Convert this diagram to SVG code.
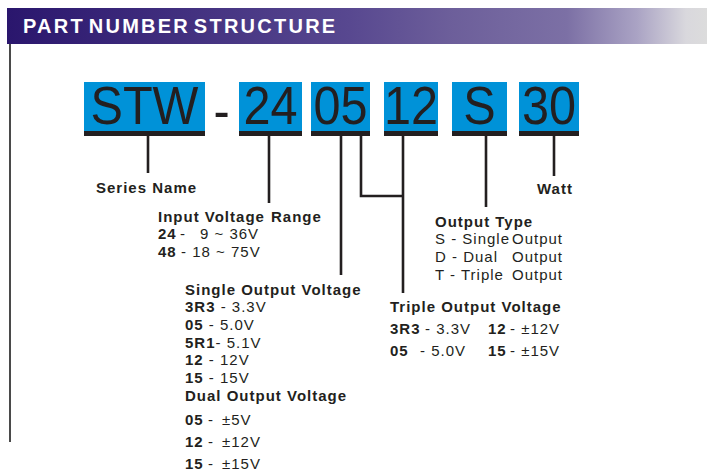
<svg xmlns="http://www.w3.org/2000/svg" width="707" height="473" viewBox="0 0 707 473">
<defs>
<linearGradient id="hdr" x1="7" y1="0" x2="707" y2="0" gradientUnits="userSpaceOnUse">
<stop offset="0" stop-color="#2a166d"/>
<stop offset="0.49" stop-color="#584890"/>
<stop offset="0.63" stop-color="#6c5e9a"/>
<stop offset="0.8" stop-color="#7c70a5"/>
<stop offset="0.9" stop-color="#aaa3c4"/>
<stop offset="0.97" stop-color="#d9d8dd"/>
<stop offset="1" stop-color="#dcdcdc"/>
</linearGradient>
<style>
.t{font-family:"Liberation Sans",Arial,sans-serif;fill:#231f20;font-size:15px;letter-spacing:1px}
.b{font-weight:bold}
.big{font-family:"Liberation Sans",Arial,sans-serif;fill:#231f20;font-size:54px}
.box{fill:#0092d8}
.bar{fill:#231f20}
.c{fill:none;stroke:#231f20;stroke-width:2.6}
</style>
</defs>
<rect width="707" height="473" fill="#ffffff"/>
<g id="header">
<rect x="7" y="8" width="700" height="36" fill="url(#hdr)"/>
<text x="23" y="33" font-family="Liberation Sans,Arial,sans-serif" font-weight="bold" font-size="20" fill="#ffffff" letter-spacing="2.25" word-spacing="-4">PART NUMBER STRUCTURE</text>
</g>
<line x1="10" y1="44" x2="10" y2="442" stroke="#4a4a4a" stroke-width="2"/>
<g id="part-STW">
<rect class="box" x="84" y="82" width="121" height="49"/>
<rect class="bar" x="84" y="131" width="121" height="5"/>
<text class="big" transform="translate(144.5,124) scale(0.9,1)" text-anchor="middle" fill="#000">STW</text>
</g>
<g id="dash">
<text class="big" transform="translate(221.5,129) scale(0.9,1)" text-anchor="middle">-</text>
</g>
<g id="part-24">
<rect class="box" x="239" y="82" width="63" height="49"/>
<rect class="bar" x="239" y="131" width="63" height="5"/>
<text class="big" transform="translate(270.5,124) scale(0.9,1)" text-anchor="middle">24</text>
</g>
<g id="part-05">
<rect class="box" x="311" y="82" width="59" height="49"/>
<rect class="bar" x="311" y="131" width="59" height="5"/>
<text class="big" transform="translate(340.5,124) scale(0.9,1)" text-anchor="middle">05</text>
</g>
<g id="part-12">
<rect class="box" x="384" y="82" width="54" height="49"/>
<rect class="bar" x="384" y="131" width="54" height="5"/>
<text class="big" transform="translate(411,124) scale(0.9,1)" text-anchor="middle">12</text>
</g>
<g id="part-S">
<rect class="box" x="452" y="82" width="55" height="49"/>
<rect class="bar" x="452" y="131" width="55" height="5"/>
<text class="big" transform="translate(479.5,124) scale(0.9,1)" text-anchor="middle">S</text>
</g>
<g id="part-30">
<rect class="box" x="519" y="82" width="60" height="49"/>
<rect class="bar" x="519" y="131" width="60" height="5"/>
<text class="big" transform="translate(549,124) scale(0.9,1)" text-anchor="middle">30</text>
</g>
<g id="connectors">
<path class="c" d="M148 136V173"/>
<path class="c" d="M269 136V203"/>
<path class="c" d="M341 136V275"/>
<path class="c" d="M361 136V196H403"/>
<path class="c" d="M403 136V293"/>
<path class="c" d="M486 136V207"/>
<path class="c" d="M554 136V176"/>
</g>
<g id="series-name">
<text class="t b" x="96" y="193">Series Name</text>
</g>
<g id="input-voltage">
<text class="t b" y="222"><tspan x="158">Input Voltage</tspan><tspan x="271">Range</tspan></text>
<text class="t" y="239"><tspan class="b" x="158">24</tspan><tspan x="180">-</tspan><tspan x="200">9 ~ 36V</tspan></text>
<text class="t" y="257"><tspan class="b" x="158">48</tspan><tspan x="181">- 18 ~ 75V</tspan></text>
</g>
<g id="single-output">
<text class="t b" x="185" y="295">Single Output Voltage</text>
<text class="t" x="185" y="312"><tspan class="b">3R3</tspan> - 3.3V</text>
<text class="t" x="185" y="330"><tspan class="b">05</tspan> - 5.0V</text>
<text class="t" x="185" y="348"><tspan class="b">5R1</tspan>- 5.1V</text>
<text class="t" x="185" y="365"><tspan class="b">12</tspan> - 12V</text>
<text class="t" x="185" y="383"><tspan class="b">15</tspan> - 15V</text>
</g>
<g id="dual-output">
<text class="t b" x="185" y="401">Dual Output Voltage</text>
<text class="t" y="425"><tspan class="b" x="185">05</tspan><tspan x="208">-</tspan><tspan x="222">±5V</tspan></text>
<text class="t" y="447"><tspan class="b" x="185">12</tspan><tspan x="208">-</tspan><tspan x="222">±12V</tspan></text>
<text class="t" y="469"><tspan class="b" x="185">15</tspan><tspan x="208">-</tspan><tspan x="222">±15V</tspan></text>
</g>
<g id="triple-output">
<text class="t b" x="390" y="312">Triple Output Voltage</text>
<text class="t" y="334"><tspan class="b" x="390">3R3</tspan><tspan x="425">- 3.3V</tspan><tspan class="b" x="488">12</tspan><tspan x="510">- ±12V</tspan></text>
<text class="t" y="356"><tspan class="b" x="390">05</tspan><tspan x="420">- 5.0V</tspan><tspan class="b" x="488">15</tspan><tspan x="510">- ±15V</tspan></text>
</g>
<g id="output-type">
<text class="t b" x="435" y="227">Output Type</text>
<text class="t" y="244"><tspan x="435">S - Single</tspan><tspan x="512">Output</tspan></text>
<text class="t" y="262"><tspan x="435">D - Dual</tspan><tspan x="512">Output</tspan></text>
<text class="t" y="280"><tspan x="435">T - Triple</tspan><tspan x="512">Output</tspan></text>
</g>
<g id="watt">
<text class="t b" x="537" y="194">Watt</text>
</g>
</svg>
